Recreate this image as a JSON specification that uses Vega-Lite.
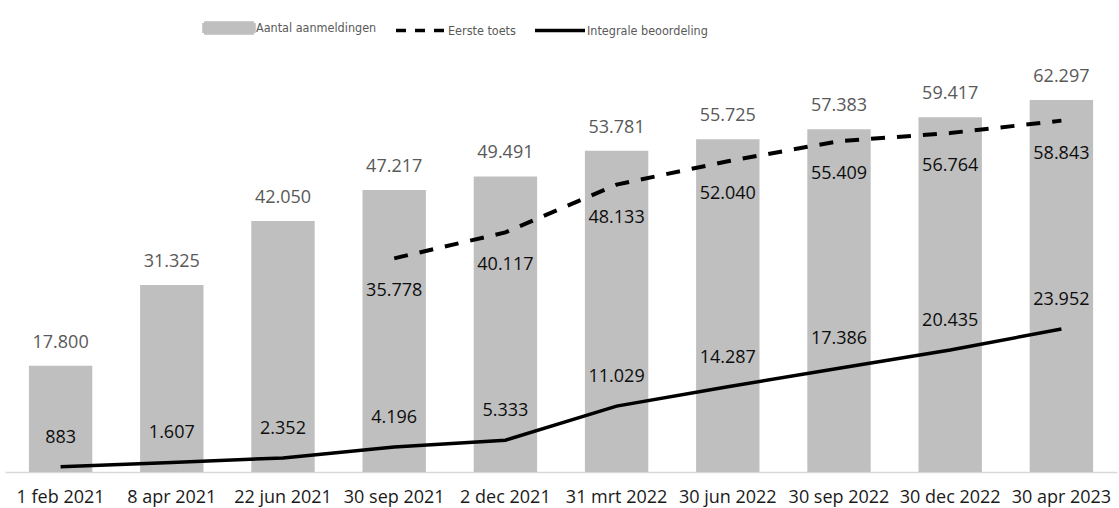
{
  "$schema": "https://vega.github.io/schema/vega-lite/v6.json",
  "width": 1112,
  "height": 418,
  "autosize": {"type": "none"},
  "padding": {"left": 5, "top": 54, "right": 2, "bottom": 36},
  "background": "white",
  "config": {
    "view": {"stroke": null},
    "locale": {"number": {"decimal": ",", "thousands": ".", "grouping": [3], "currency": ["€", ""]}},
    "font": "Open Sans"
  },
  "data": {
    "values": [
      {"datum": "1 feb 2021", "aanmeldingen": 17800, "eerste": null, "integraal": 883},
      {"datum": "8 apr 2021", "aanmeldingen": 31325, "eerste": null, "integraal": 1607},
      {"datum": "22 jun 2021", "aanmeldingen": 42050, "eerste": null, "integraal": 2352},
      {"datum": "30 sep 2021", "aanmeldingen": 47217, "eerste": 35778, "integraal": 4196},
      {"datum": "2 dec 2021", "aanmeldingen": 49491, "eerste": 40117, "integraal": 5333},
      {"datum": "31 mrt 2022", "aanmeldingen": 53781, "eerste": 48133, "integraal": 11029},
      {"datum": "30 jun 2022", "aanmeldingen": 55725, "eerste": 52040, "integraal": 14287},
      {"datum": "30 sep 2022", "aanmeldingen": 57383, "eerste": 55409, "integraal": 17386},
      {"datum": "30 dec 2022", "aanmeldingen": 59417, "eerste": 56764, "integraal": 20435},
      {"datum": "30 apr 2023", "aanmeldingen": 62297, "eerste": 58843, "integraal": 23952}
    ]
  },
  "encoding": {
    "x": {
      "field": "datum",
      "type": "nominal",
      "sort": null,
      "scale": {"paddingInner": 0.43, "paddingOuter": 0.215},
      "axis": {
        "title": null,
        "labelAngle": 0,
        "ticks": false,
        "domainColor": "#d9d9d9",
        "domainWidth": 1.5,
        "labelFont": "Open Sans",
        "labelFontSize": 18,
        "labelColor": "#1a1a1a",
        "labelPadding": 16,
        "labelOverlap": false,
        "labelLimit": 200
      }
    }
  },
  "layer": [
    {
      "mark": {"type": "bar", "color": "#bfbfbf"},
      "encoding": {
        "y": {"field": "aanmeldingen", "type": "quantitative", "scale": {"domain": [0, 70000], "nice": false}, "axis": null},
        "color": {
          "datum": "Aantal aanmeldingen",
          "scale": {"domain": ["Aantal aanmeldingen", "Eerste toets", "Integrale beoordeling"], "range": ["#bfbfbf", "#000000", "#000000"]},
          "legend": {
            "title": null,
            "orient": "none",
            "direction": "horizontal",
            "legendX": 197,
            "legendY": -53,
            "symbolSize": 2500,
            "symbolStrokeWidth": 3.5,
            "labelFont": "DejaVu Sans Condensed, Roboto, sans-serif",
            "labelFontSize": 12.5,
            "labelColor": "#595959",
            "labelOffset": 0,
            "columnPadding": 12,
            "labelLimit": 300,
            "encode": {
              "symbols": {
                "update": {
                  "shape": {"signal": "datum.value === 'Aantal aanmeldingen' ? 'M-1,-0.2H1V0.2H-1Z' : 'M-1,0H1'"},
                  "fill": {"signal": "datum.value === 'Aantal aanmeldingen' ? '#bfbfbf' : 'transparent'"},
                  "stroke": {"signal": "datum.value === 'Aantal aanmeldingen' ? 'transparent' : '#000000'"},
                  "strokeDash": {"signal": "datum.value === 'Eerste toets' ? [10, 9] : [1, 0]"},
                  "strokeWidth": {"value": 3.5},
                  "opacity": {"value": 1}
                }
              }
            }
          }
        }
      }
    },
    {
      "mark": {"type": "text", "baseline": "alphabetic", "dy": -18, "fontSize": 18, "color": "#595959", "font": "Open Sans"},
      "encoding": {
        "y": {"field": "aanmeldingen", "type": "quantitative", "scale": {"domain": [0, 70000], "nice": false}, "axis": null},
        "text": {"field": "aanmeldingen", "type": "quantitative", "format": ",d"}
      }
    },
    {
      "transform": [{"filter": "datum.eerste != null"}],
      "mark": {"type": "line", "strokeWidth": 4, "strokeDash": [14, 12]},
      "encoding": {
        "y": {"field": "eerste", "type": "quantitative", "scale": {"domain": [0, 70000], "nice": false}, "axis": null},
        "color": {"datum": "Eerste toets"}
      }
    },
    {
      "transform": [{"filter": "datum.eerste != null"}],
      "mark": {"type": "text", "baseline": "alphabetic", "dy": 38, "fontSize": 18, "color": "#0d0d0d", "font": "Open Sans"},
      "encoding": {
        "y": {"field": "eerste", "type": "quantitative", "scale": {"domain": [0, 70000], "nice": false}, "axis": null},
        "text": {"field": "eerste", "type": "quantitative", "format": ",d"}
      }
    },
    {
      "mark": {"type": "line", "strokeWidth": 3.5},
      "encoding": {
        "y": {"field": "integraal", "type": "quantitative", "scale": {"domain": [0, 70000], "nice": false}, "axis": null},
        "color": {"datum": "Integrale beoordeling"}
      }
    },
    {
      "mark": {"type": "text", "baseline": "alphabetic", "dy": -24, "fontSize": 18, "color": "#0d0d0d", "font": "Open Sans"},
      "encoding": {
        "y": {"field": "integraal", "type": "quantitative", "scale": {"domain": [0, 70000], "nice": false}, "axis": null},
        "text": {"field": "integraal", "type": "quantitative", "format": ",d"}
      }
    }
  ]
}
